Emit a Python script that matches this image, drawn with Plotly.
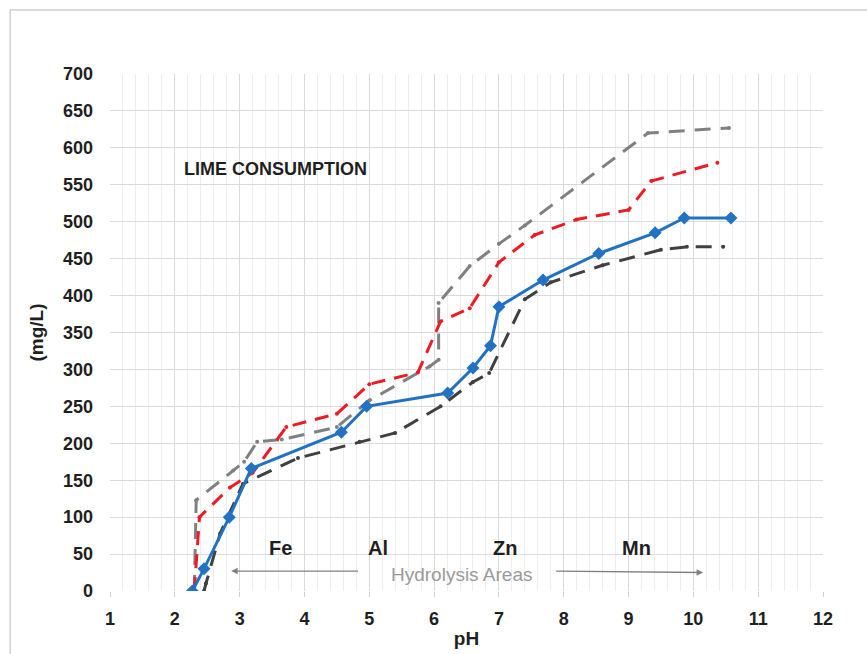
import plotly.graph_objects as go

# Lime consumption (mg/L) against pH for four titration curves
ph_blue = [2.27, 2.45, 2.84, 3.18, 4.57, 4.96, 6.21, 6.60, 6.87, 7.00, 7.68, 8.54, 9.41, 9.86, 10.58]
lime_blue = [0, 30, 100, 166, 215, 250, 268, 302, 332, 385, 421, 457, 485, 505, 505]

ph_red = [2.30, 2.38, 2.85, 3.20, 3.72, 4.50, 5.00, 5.75, 6.10, 6.55, 7.00, 7.55, 8.20, 9.00, 9.35, 10.37]
lime_red = [0, 100, 140, 160, 222, 240, 280, 296, 365, 383, 445, 482, 503, 516, 555, 580]

ph_gray = [2.30, 2.33, 2.90, 3.07, 3.27, 3.65, 4.50, 5.00, 5.93, 6.07, 6.07, 6.55, 7.00, 7.40, 9.30, 10.55]
lime_gray = [0, 123, 163, 175, 202, 205, 222, 258, 304, 313, 390, 440, 470, 495, 620, 627]

ph_dark = [2.45, 2.48, 2.70, 3.05, 3.90, 4.85, 5.40, 6.10, 6.60, 6.85, 7.40, 7.80, 8.60, 9.50, 9.90, 10.46]
lime_dark = [0, 10, 78, 145, 180, 202, 214, 250, 283, 295, 395, 418, 441, 462, 466, 466]

metal_labels = ["Fe", "Al", "Zn", "Mn"]
metal_ph = [3.63, 5.13, 7.10, 9.13]

x_ticks = list(range(1, 13))
y_ticks = list(range(0, 701, 50))

FONT = "Liberation Sans, Arial, sans-serif"
TEXT = "#1f1f1f"

fig = go.Figure()

fig.add_trace(go.Scatter(
    x=ph_gray, y=lime_gray, mode="lines+markers",
    line=dict(color="rgb(128,128,128)", width=3, dash="16px,10px"),
    marker=dict(size=4, color="rgb(128,128,128)"),
    showlegend=False,
))
fig.add_trace(go.Scatter(
    x=ph_dark, y=lime_dark, mode="lines+markers",
    line=dict(color="rgb(64,64,64)", width=3, dash="16px,10px"),
    marker=dict(size=4, color="rgb(64,64,64)"),
    showlegend=False,
))
fig.add_trace(go.Scatter(
    x=ph_red, y=lime_red, mode="lines+markers",
    line=dict(color="rgb(235,28,36)", width=3, dash="14px,9px"),
    marker=dict(size=4, color="rgb(235,28,36)"),
    showlegend=False,
))
fig.add_trace(go.Scatter(
    x=ph_blue, y=lime_blue, mode="lines+markers",
    line=dict(color="rgb(34,114,196)", width=3),
    marker=dict(symbol="diamond", size=10, color="rgb(34,114,196)"),
    showlegend=False,
))

annotations = [
    dict(x=3.55, y=572, text="<b>LIME CONSUMPTION</b>", showarrow=False,
         font=dict(family=FONT, size=18, color=TEXT), xref="x", yref="y"),
    dict(x=6.43, y=22, text="Hydrolysis Areas", showarrow=False,
         font=dict(family=FONT, size=19, color="#9a9a9a"), xref="x", yref="y"),
    # hydrolysis range arrows
    dict(x=2.87, y=27, ax=4.85, ay=27, xref="x", yref="y", axref="x", ayref="y",
         text="", showarrow=True, arrowhead=2, arrowsize=1, arrowwidth=1.3,
         arrowcolor="#808080"),
    dict(x=10.15, y=25, ax=7.86, ay=27, xref="x", yref="y", axref="x", ayref="y",
         text="", showarrow=True, arrowhead=2, arrowsize=1, arrowwidth=1.3,
         arrowcolor="#808080"),
]
for name, xp in zip(metal_labels, metal_ph):
    annotations.append(dict(x=xp, y=58, text="<b>%s</b>" % name, showarrow=False,
                            font=dict(family=FONT, size=20, color=TEXT),
                            xref="x", yref="y"))

fig.update_layout(
    width=867, height=654,
    margin=dict(l=110, r=44, t=74, b=63),
    paper_bgcolor="white", plot_bgcolor="white",
    font=dict(family=FONT, color=TEXT),
    annotations=annotations,
    shapes=[dict(type="rect", xref="paper", yref="paper",
                 x0=-0.140, x1=1.3, y0=-0.3, y1=1.124,
                 line=dict(color="#d0d0d0", width=1.5), layer="below")],
)

fig.update_xaxes(
    range=[1, 12], tickvals=x_ticks, ticktext=["<b>%d</b>" % v for v in x_ticks],
    tickfont=dict(family=FONT, size=18, color=TEXT),
    showgrid=True, gridcolor="#dadada", gridwidth=1,
    minor=dict(dtick=0.2, showgrid=True, gridcolor="#eeeeee", gridwidth=1),
    ticks="outside", ticklen=5, tickcolor="#d0d0d0", ticklabelstandoff=6,
    showline=False, zeroline=False, automargin=False,
    title=dict(text="<b>pH</b>", font=dict(family=FONT, size=19, color=TEXT),
               standoff=4),
)
fig.update_yaxes(
    range=[0, 700], tickvals=y_ticks, ticktext=["<b>%d</b>" % v for v in y_ticks],
    tickfont=dict(family=FONT, size=18, color=TEXT),
    showgrid=True, gridcolor="#dadada", gridwidth=1,
    showline=False, zeroline=False, ticks="", ticklabelstandoff=16,
    automargin=False,
    title=dict(text="<b>(mg/L)</b>", font=dict(family=FONT, size=19, color=TEXT),
               standoff=14),
)

fig.write_html("out.html")
